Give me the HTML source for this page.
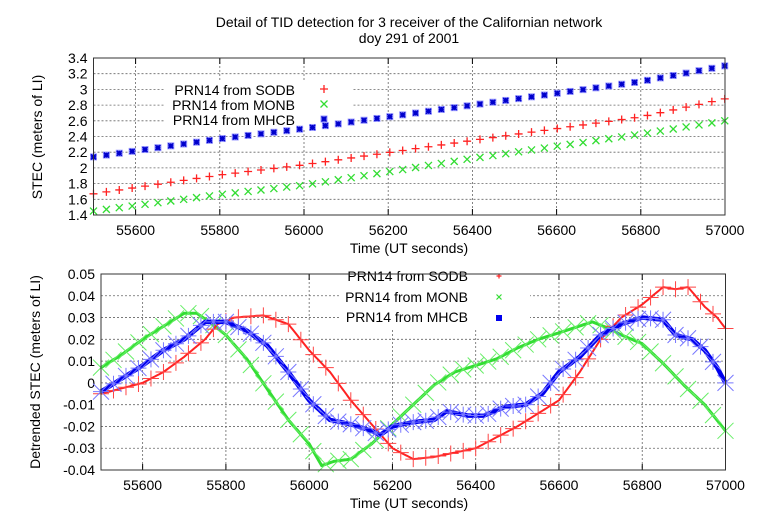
<!DOCTYPE html>
<html><head><meta charset="utf-8"><style>body{margin:0;background:#fff}svg{display:block;font-family:"Liberation Sans",sans-serif}</style></head>
<body><svg id="s" width="768" height="520" xmlns="http://www.w3.org/2000/svg"></svg>
<script>
const S=document.getElementById('s');let h='';
h+='<text x="409" y="27" font-size="14" text-anchor="middle">Detail of TID detection for 3 receiver of the Californian network</text>';
h+='<text x="409" y="43" font-size="14" text-anchor="middle">doy 291 of 2001</text>';
function plot(L,R,T,B,ymin,ymax,ystep,fmt){
 const X=t=>L+(t-55500)*(R-L)/1500,Y=v=>B-(v-ymin)*(B-T)/(ymax-ymin);
 for(let t=55600;t<57000;t+=200)h+=`<line x1="${X(t)}" x2="${X(t)}" y1="${T}" y2="${B}" stroke="#666" stroke-dasharray="2,2" stroke-width="0.8"/>`;
 for(let v=ymin+ystep;v<ymax-1e-9;v+=ystep)h+=`<line x1="${L}" x2="${R}" y1="${Y(v)}" y2="${Y(v)}" stroke="#666" stroke-dasharray="2,2" stroke-width="0.8"/>`;
 for(let t=55600;t<=57000;t+=200){h+=`<text x="${X(t)}" y="${B+20}" font-size="14" text-anchor="middle">${t}</text>`;h+=`<line x1="${X(t)}" x2="${X(t)}" y1="${B}" y2="${B-6}" stroke="#000"/><line x1="${X(t)}" x2="${X(t)}" y1="${T}" y2="${T+6}" stroke="#000"/>`;}
 for(let v=ymin;v<=ymax+1e-9;v+=ystep)h+=`<text x="${L-6}" y="${Y(v)+5}" font-size="14" text-anchor="end">${fmt(v)}</text>`;
 return [X,Y];
}
function mk(type,x,y,s,c,w){
 let o='';
 if(type=='+')o=`<path d="M${x-s} ${y}h${2*s}M${x} ${y-s}v${2*s}" stroke="${c}" stroke-width="${w}" fill="none"/>`;
 else if(type=='x')o=`<path d="M${x-s} ${y-s}l${2*s} ${2*s}M${x-s} ${y+s}l${2*s} ${-2*s}" stroke="${c}" stroke-width="${w}" fill="none"/>`;
 else o=`<path d="M${x-s} ${y}h${2*s}M${x} ${y-s}v${2*s}M${x-s} ${y-s}l${2*s} ${2*s}M${x-s} ${y+s}l${2*s} ${-2*s}" stroke="${c}" stroke-width="${w}" fill="none"/>`;
 return o;
}
function interp(P,t){for(let i=0;i<P.length-1;i++){if(t<=P[i+1][0]){const f=(t-P[i][0])/(P[i+1][0]-P[i][0]);return P[i][1]+f*(P[i+1][1]-P[i][1]);}}return P[P.length-1][1];}
let [X,Y]=plot(93.5,725,58,215,1.4,3.4,0.2,v=>(+v.toFixed(1)).toString());
h+='<rect x="165" y="80" width="188" height="48" fill="#fff"/>';
const tb=[[55500,2.14],[55800,2.37],[56000,2.50],[56400,2.80],[56800,3.10],[57000,3.30]];
const tr=[[55500,1.67],[55800,1.91],[56000,2.04],[56400,2.35],[56800,2.65],[57000,2.88]];
const tg=[[55500,1.45],[55800,1.66],[56000,1.78],[56400,2.12],[56800,2.43],[57000,2.60]];
for(let t=55500;t<=57001;t+=30.6){
 h+=mk('+',X(t),Y(interp(tr,t)),4,'#f22',1.3);
 h+=mk('x',X(t),Y(interp(tg,t)),3.5,'#3d3',1.3);
 h+=`<rect x="${X(t)-3.5}" y="${Y(interp(tb,t))-3.5}" width="7" height="7" fill="#99f"/>`+mk('*',X(t),Y(interp(tb,t)),2.5,'#00c',1.5);
}
h+='<text x="295" y="95" font-size="14" text-anchor="end">PRN14 from SODB</text>'+mk('+',324,89,4,'#f22',1.3);
h+='<text x="295" y="110" font-size="14" text-anchor="end">PRN14 from MONB</text>'+mk('x',324,104,3.5,'#3d3',1.3);
h+='<text x="295" y="125" font-size="14" text-anchor="end">PRN14 from MHCB</text><rect x="320.5" y="115.5" width="7" height="7" fill="#99f"/>'+mk('*',324,119,2.5,'#00c',1.5);
h+='<rect x="93.5" y="58" width="631.5" height="157" fill="none" stroke="#333" stroke-width="1"/>';
h+='<text x="409" y="253" font-size="14" text-anchor="middle">Time (UT seconds)</text>';
h+='<text transform="translate(42,137) rotate(-90)" font-size="14" text-anchor="middle">STEC (meters of LI)</text>';
[X,Y]=plot(101,725.5,274,470,-0.04,0.05,0.01,v=>{let r=+v.toFixed(2);return r==0?'0':r.toString();});
h+='<rect x="340" y="266" width="190" height="62" fill="#fff"/>';
const R=[[55500,-0.005],[55600,0],[55650,0.005],[55700,0.012],[55750,0.02],[55780,0.027],[55820,0.030],[55890,0.031],[55950,0.027],[56000,0.015],[56050,0.005],[56100,-0.008],[56150,-0.019],[56200,-0.030],[56250,-0.035],[56300,-0.034],[56400,-0.030],[56500,-0.020],[56600,-0.008],[56650,0.005],[56700,0.020],[56750,0.030],[56800,0.036],[56850,0.044],[56880,0.043],[56910,0.044],[56950,0.035],[56980,0.030],[57000,0.025]];
const Bl=[[55500,-0.004],[55600,0.008],[55650,0.015],[55700,0.02],[55750,0.028],[55800,0.028],[55850,0.024],[55900,0.017],[55950,0.005],[56000,-0.008],[56050,-0.017],[56100,-0.019],[56150,-0.022],[56170,-0.024],[56200,-0.020],[56250,-0.018],[56300,-0.017],[56330,-0.013],[56380,-0.015],[56420,-0.015],[56470,-0.011],[56520,-0.010],[56560,-0.005],[56600,0.005],[56650,0.012],[56700,0.022],[56750,0.027],[56800,0.030],[56850,0.029],[56880,0.022],[56920,0.020],[56950,0.015],[56980,0.007],[57000,0.0]];
const G=[[55500,0.007],[55550,0.013],[55600,0.020],[55650,0.026],[55700,0.032],[55730,0.032],[55760,0.028],[55800,0.022],[55850,0.011],[55900,-0.003],[55950,-0.017],[56000,-0.028],[56030,-0.038],[56060,-0.036],[56100,-0.035],[56150,-0.028],[56200,-0.019],[56250,-0.010],[56300,-0.001],[56350,0.005],[56400,0.008],[56450,0.011],[56500,0.016],[56550,0.020],[56600,0.023],[56680,0.028],[56720,0.025],[56750,0.022],[56800,0.018],[56850,0.009],[56900,-0.001],[56950,-0.010],[57000,-0.022]];
function series(P,c,w,type,s,mc,step){
 let d='';for(let t=55500;t<=57000;t+=5)d+=(d?'L':'M')+X(t).toFixed(1)+' '+Y(interp(P,t)).toFixed(1);
 h+=`<path d="${d}" fill="none" stroke="${c}" stroke-width="${w}" stroke-linejoin="round"/>`;
 for(let t=55500;t<=57001;t+=step)h+=mk(type,X(t),Y(interp(P,t)),s,mc,1);
}
series(G,'#3d3',3,'x',8,'#6e6',30);
series(R,'#f22',2,'+',8,'#f44',30);
series(Bl,'#00e',4.5,'*',8,'#77f',30);
h+='<text x="468" y="281" font-size="14" text-anchor="end">PRN14 from SODB</text>'+mk('+',499,276,2.5,'#f22',1.2);
h+='<text x="468" y="302" font-size="14" text-anchor="end">PRN14 from MONB</text>'+mk('x',499,297,2.5,'#3d3',1.2);
h+='<text x="468" y="322" font-size="14" text-anchor="end">PRN14 from MHCB</text><rect x="496" y="315" width="6" height="6" fill="#00e"/>';
h+='<rect x="101" y="274" width="624.5" height="196" fill="none" stroke="#333" stroke-width="1"/>';
h+='<text x="409" y="508" font-size="14" text-anchor="middle">Time (UT seconds)</text>';
h+='<text transform="translate(40,372) rotate(-90)" font-size="14" text-anchor="middle">Detrended STEC (meters of LI)</text>';
S.innerHTML=h;
</script></body></html>
